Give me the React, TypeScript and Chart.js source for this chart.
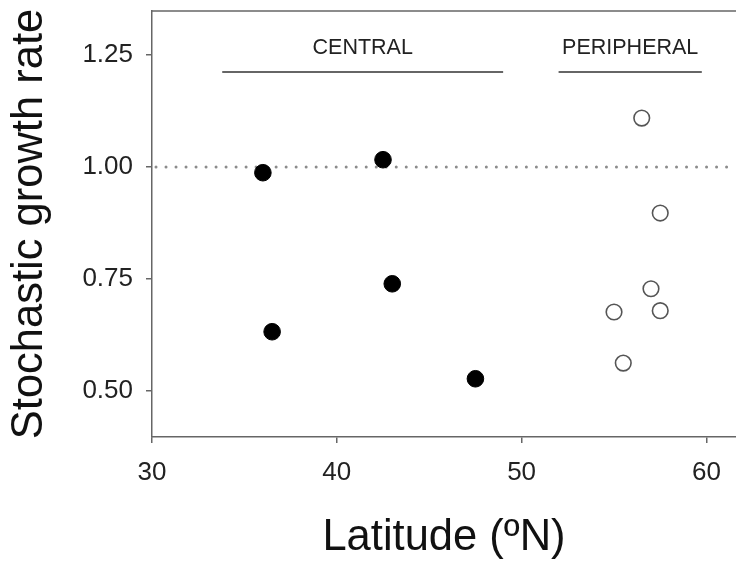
import { useEffect, useRef } from 'react';
import { Chart, registerables } from 'chart.js';

Chart.register(...registerables);

// ---- data ----
const centralLat = [36.0, 36.5, 42.5, 43.0, 47.5];
const centralRate = [0.987, 0.632, 1.016, 0.739, 0.527];
const peripheralLat = [56.5, 57.5, 57.0, 55.0, 57.5, 55.5];
const peripheralRate = [1.109, 0.897, 0.728, 0.676, 0.679, 0.562];

const xMin = 30;
const xMax = 61.6;
const xStep = 10;
const yMin = 0.397;
const yMax = 1.348;
const yStep = 0.25;

const referenceRate = 1.0;

const groupNames = ['CENTRAL', 'PERIPHERAL'];
const groupStart = [33.8, 52.0];
const groupEnd = [49.0, 59.75];
const groupLineY = 1.212;
const groupLabelY = 1.266;

const FONT = "'Liberation Sans', Arial, sans-serif";
const AXIS = '#666666';

const decorPlugin = {
  id: 'decor',
  beforeDatasetsDraw(chart: any) {
    const { ctx, chartArea, scales } = chart;
    const y = scales.y.getPixelForValue(referenceRate);
    ctx.save();
    ctx.strokeStyle = '#8c8c8c';
    ctx.lineWidth = 3;
    ctx.lineCap = 'round';
    ctx.setLineDash([0.01, 10]);
    ctx.beginPath();
    ctx.moveTo(chartArea.left + 4, y);
    ctx.lineTo(chartArea.right, y);
    ctx.stroke();
    ctx.restore();
  },
  afterDraw(chart: any) {
    const { ctx, chartArea, scales } = chart;
    ctx.save();
    // top frame line
    ctx.strokeStyle = AXIS;
    ctx.lineWidth = 1.5;
    ctx.beginPath();
    ctx.moveTo(chartArea.left, chartArea.top);
    ctx.lineTo(chartArea.right, chartArea.top);
    ctx.stroke();
    // group brackets
    ctx.strokeStyle = '#333333';
    ctx.lineWidth = 1.5;
    ctx.fillStyle = '#222222';
    ctx.font = `21.5px ${FONT}`;
    ctx.textAlign = 'center';
    ctx.textBaseline = 'middle';
    const ly = scales.y.getPixelForValue(groupLineY);
    const ty = scales.y.getPixelForValue(groupLabelY);
    groupNames.forEach((name, i) => {
      const x1 = scales.x.getPixelForValue(groupStart[i]);
      const x2 = scales.x.getPixelForValue(groupEnd[i]);
      ctx.beginPath();
      ctx.moveTo(x1, ly);
      ctx.lineTo(x2, ly);
      ctx.stroke();
      ctx.fillText(name, (x1 + x2) / 2, ty);
    });
    ctx.restore();
  },
};

export default function App() {
  const ref = useRef<HTMLCanvasElement>(null);
  useEffect(() => {
    if (!ref.current) return;
    const chart = new Chart(ref.current, {
      type: 'scatter',
      data: {
        datasets: [
          {
            label: 'Central',
            data: centralLat.map((x, i) => ({ x, y: centralRate[i] })),
            pointRadius: 8.3,
            pointBackgroundColor: '#000000',
            pointBorderColor: '#000000',
            pointBorderWidth: 1,
          },
          {
            label: 'Peripheral',
            data: peripheralLat.map((x, i) => ({ x, y: peripheralRate[i] })),
            pointRadius: 7.8,
            pointBackgroundColor: '#ffffff',
            pointBorderColor: '#555555',
            pointBorderWidth: 1.6,
          },
        ],
      },
      options: {
        responsive: false,
        animation: false,
        layout: { autoPadding: false, padding: { top: 11, right: 0, left: 0, bottom: 0 } },
        plugins: { legend: { display: false }, tooltip: { enabled: false } },
        scales: {
          x: {
            type: 'linear',
            position: 'bottom',
            min: xMin,
            max: xMax,
            afterFit: (s: any) => {
              s.height = 128;
              s.paddingLeft = 0;
              s.paddingRight = 0;
            },
            ticks: {
              stepSize: xStep,
              includeBounds: false,
              color: '#222222',
              font: { family: FONT, size: 26 },
              padding: 14,
              maxRotation: 0,
            },
            grid: { drawOnChartArea: false, drawTicks: true, tickLength: 6, color: AXIS, lineWidth: 1.5 },
            border: { display: true, color: AXIS, width: 1.5 },
            title: {
              display: true,
              text: 'Latitude (ºN)',
              color: '#111111',
              font: { family: FONT, size: 43.5 },
              padding: { top: 0, bottom: 1 },
            },
          },
          y: {
            type: 'linear',
            min: yMin,
            max: yMax,
            afterFit: (s: any) => {
              s.width = 152;
              s.paddingTop = 0;
              s.paddingBottom = 0;
            },
            ticks: {
              stepSize: yStep,
              includeBounds: false,
              color: '#222222',
              font: { family: FONT, size: 26 },
              padding: 13,
              callback: (v: any) => Number(v).toFixed(2),
            },
            grid: { drawOnChartArea: false, drawTicks: true, tickLength: 6, color: AXIS, lineWidth: 1.5 },
            border: { display: true, color: AXIS, width: 1.5 },
            title: {
              display: true,
              text: 'Stochastic growth rate',
              color: '#111111',
              font: { family: FONT, size: 43.5 },
              padding: { top: 4, bottom: 0 },
            },
          },
        },
      },
      plugins: [decorPlugin],
    });
    return () => chart.destroy();
  }, []);
  return (
    <div style={{ position: 'fixed', left: 0, top: 0, width: 736, height: 565, background: '#fff' }}>
      <canvas ref={ref} width={736} height={565} style={{ width: 736, height: 565, display: 'block' }} />
    </div>
  );
}
